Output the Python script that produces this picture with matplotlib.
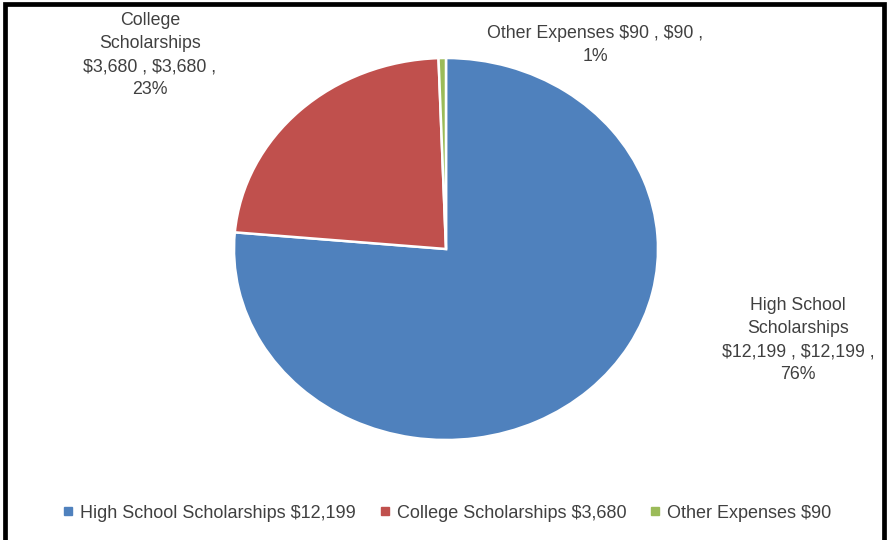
import matplotlib
matplotlib.use('Agg')
import matplotlib.pyplot as plt
from matplotlib.lines import Line2D

# data
categories = ['High School Scholarships', 'College Scholarships', 'Other Expenses']
values = [12199, 3680, 90]
colors = ['#4F81BD', '#C0504D', '#9BBB59']

# label positions in pixels (center x, center y)
label_pos = [(798, 340), (150, 55), (595, 45)]
label_wrap = [['High School', 'Scholarships'], ['College', 'Scholarships'], ['Other Expenses']]

plt.rcParams['font.family'] = ['Liberation Sans', 'DejaVu Sans']
plt.rcParams['text.parse_math'] = False

W, H = 888, 540
fig = plt.figure(figsize=(W / 100, H / 100), dpi=100)

def fx(x):
	return x / W

def fy(y):
	return 1 - y / H

# pie box: x 234..658, y 58..440
ax = fig.add_axes([fx(234), fy(440), (658 - 234) / W, (440 - 58) / H])
ax.pie(values, colors=colors, startangle=90, counterclock=False,
	wedgeprops=dict(edgecolor='white', linewidth=1.8))
ax.set_aspect('auto')
ax.set_xlim(-1, 1)
ax.set_ylim(-1, 1)
ax.axis('off')

total = float(sum(values))
for i in range(len(values)):
	money = '${:,}'.format(values[i])
	pct = '{:.0f}%'.format(values[i] / total * 100)
	if len(label_wrap[i]) > 1:
		txt = '\n'.join(label_wrap[i]) + '\n' + money + ' , ' + money + ' ,\n' + pct
	else:
		txt = label_wrap[i][0] + ' ' + money + ' , ' + money + ' ,\n' + pct
	x, y = label_pos[i]
	fig.text(fx(x), fy(y), txt, ha='center', va='center', fontsize=12.8,
		color='#404040', linespacing=1.48)

# legend
handles = [Line2D([0], [0], marker='s', color='none', markerfacecolor=c,
	markeredgecolor=c, markersize=6) for c in colors]
leg_labels = [categories[i] + ' ${:,}'.format(values[i]) for i in range(len(values))]
fig.legend(handles, leg_labels, loc='center', bbox_to_anchor=(fx(447), fy(513)),
	ncol=3, frameon=False, fontsize=13, handlelength=0.6, handletextpad=0.35,
	columnspacing=1.3, labelcolor='#404040')

# outer border
fig.add_artist(Line2D([fx(5), fx(5), fx(884), fx(884)], [fy(560), fy(3.5), fy(3.5), fy(560)],
	color='black', linewidth=3.4, solid_joinstyle='miter'))

fig.savefig('out.png', dpi=100)
